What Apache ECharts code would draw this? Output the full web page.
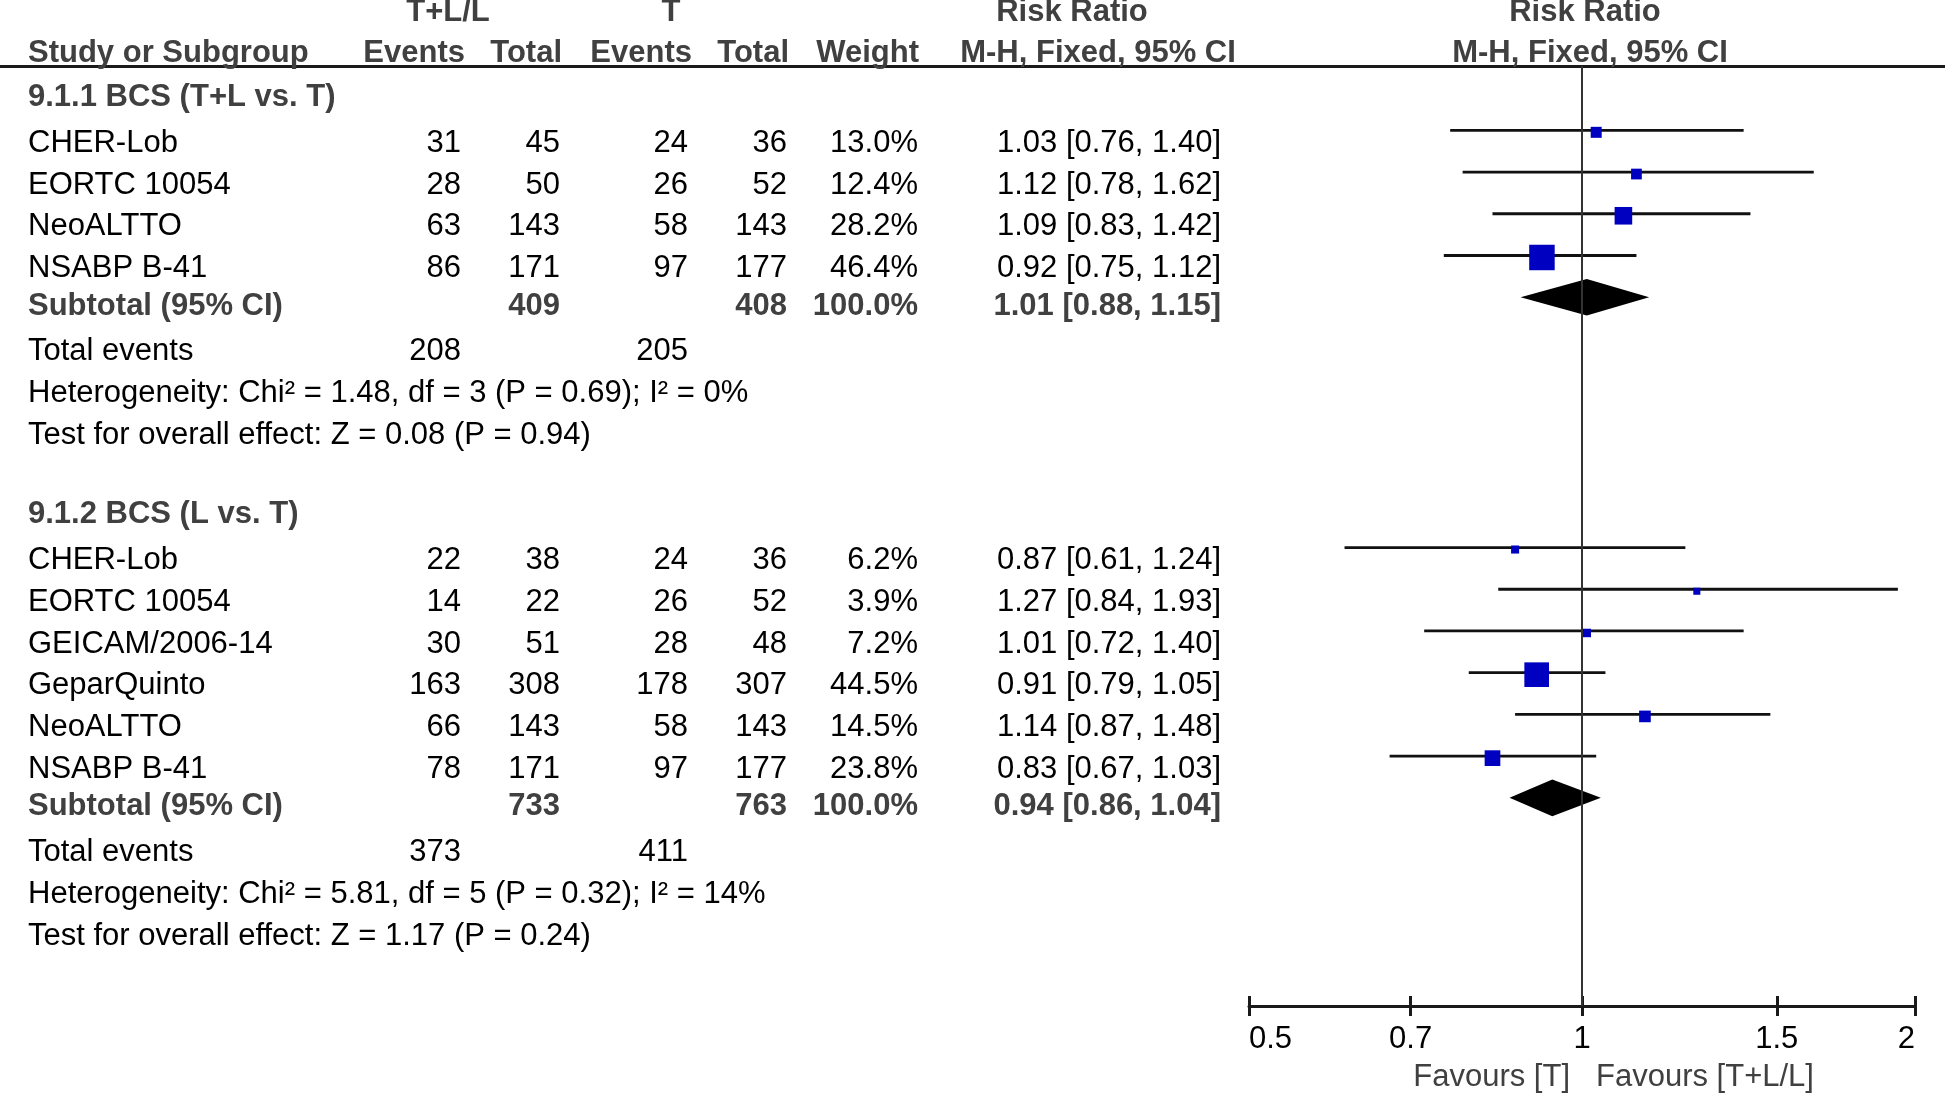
<!DOCTYPE html>
<html><head><meta charset="utf-8">
<script src="https://cdn.jsdelivr.net/npm/echarts@6/dist/echarts.min.js"></script>
<style>html,body{margin:0;padding:0;background:#fff}#c{width:1945px;height:1094px}</style>
</head><body><div id="c"></div>
<script>
// ---------------- data ----------------
const g1Title = '9.1.1 BCS (T+L vs. T)';
const g1Studies = ['CHER-Lob', 'EORTC 10054', 'NeoALTTO', 'NSABP B-41'];
const g1ExpEvents = [31, 28, 63, 86];
const g1ExpTotal = [45, 50, 143, 171];
const g1CtlEvents = [24, 26, 58, 97];
const g1CtlTotal = [36, 52, 143, 177];
const g1Weight = [13.0, 12.4, 28.2, 46.4];
const g1RR = [1.03, 1.12, 1.09, 0.92];
const g1Lower = [0.76, 0.78, 0.83, 0.75];
const g1Upper = [1.40, 1.62, 1.42, 1.12];
const g1SubTotals = [409, 408];
const g1SubWeight = '100.0%';
const g1Pooled = [1.01, 0.88, 1.15];
const g1TotalEvents = [208, 205];
const g1Heterogeneity = 'Heterogeneity: Chi² = 1.48, df = 3 (P = 0.69); I² = 0%';
const g1Overall = 'Test for overall effect: Z = 0.08 (P = 0.94)';

const g2Title = '9.1.2 BCS (L vs. T)';
const g2Studies = ['CHER-Lob', 'EORTC 10054', 'GEICAM/2006-14', 'GeparQuinto', 'NeoALTTO', 'NSABP B-41'];
const g2ExpEvents = [22, 14, 30, 163, 66, 78];
const g2ExpTotal = [38, 22, 51, 308, 143, 171];
const g2CtlEvents = [24, 26, 28, 178, 58, 97];
const g2CtlTotal = [36, 52, 48, 307, 143, 177];
const g2Weight = [6.2, 3.9, 7.2, 44.5, 14.5, 23.8];
const g2RR = [0.87, 1.27, 1.01, 0.91, 1.14, 0.83];
const g2Lower = [0.61, 0.84, 0.72, 0.79, 0.87, 0.67];
const g2Upper = [1.24, 1.93, 1.40, 1.05, 1.48, 1.03];
const g2SubTotals = [733, 763];
const g2SubWeight = '100.0%';
const g2Pooled = [0.94, 0.86, 1.04];
const g2TotalEvents = [373, 411];
const g2Heterogeneity = 'Heterogeneity: Chi² = 5.81, df = 5 (P = 0.32); I² = 14%';
const g2Overall = 'Test for overall effect: Z = 1.17 (P = 0.24)';

const xTicks = [0.5, 0.7, 1, 1.5, 2];
const xTickLabels = ['0.5', '0.7', '1', '1.5', '2'];
const favourLeft = 'Favours [T]';
const favourRight = 'Favours [T+L/L]';
const headerTop = ['T+L/L', 'T', 'Risk Ratio', 'Risk Ratio'];
const headerBottom = ['Study or Subgroup', 'Events', 'Total', 'Events', 'Total', 'Weight', 'M-H, Fixed, 95% CI', 'M-H, Fixed, 95% CI'];
const subtotalLabel = 'Subtotal (95% CI)';
const totalEventsLabel = 'Total events';

// ---------------- layout / style ----------------
const FONT_FAMILY = '"Liberation Sans", Arial, Helvetica, sans-serif';
const FS = 31;
const fontR = FS + 'px ' + FONT_FAMILY;
const fontB = 'bold ' + FS + 'px ' + FONT_FAMILY;
const GRAY = '#404040';
const NAME_X = 28;
const COL_RIGHT = [461, 560, 688, 787, 918, 1221];
const TEXT_DY = 13;
const BOLD_ROW_SHIFT = -4;

function fmtCI(a, b, c) { return a.toFixed(2) + ' [' + b.toFixed(2) + ', ' + c.toFixed(2) + ']'; }

const rows = [];
let rowCounter = 0;
function addGroup(title, studies, ee, et, ce, ct, w, rr, lo, hi, sub, subW, pooled, tev, het, ovr) {
  rows.push({ kind: 'title', row: rowCounter++, name: title });
  studies.forEach((s, i) => rows.push({
    kind: 'study', row: rowCounter++, name: s,
    cells: [ee[i], et[i], ce[i], ct[i], w[i].toFixed(1) + '%', fmtCI(rr[i], lo[i], hi[i])],
    rr: rr[i], lo: lo[i], hi: hi[i], w: w[i]
  }));
  rows.push({ kind: 'sub', row: rowCounter++, name: subtotalLabel,
    cells: ['', sub[0], '', sub[1], subW, fmtCI(pooled[0], pooled[1], pooled[2])],
    rr: pooled[0], lo: pooled[1], hi: pooled[2] });
  rows.push({ kind: 'events', row: rowCounter++, name: totalEventsLabel, cells: [tev[0], '', tev[1], '', '', ''] });
  rows.push({ kind: 'note', row: rowCounter++, name: het });
  rows.push({ kind: 'note', row: rowCounter++, name: ovr });
}
addGroup(g1Title, g1Studies, g1ExpEvents, g1ExpTotal, g1CtlEvents, g1CtlTotal, g1Weight, g1RR, g1Lower, g1Upper,
  g1SubTotals, g1SubWeight, g1Pooled, g1TotalEvents, g1Heterogeneity, g1Overall);
rowCounter++;
addGroup(g2Title, g2Studies, g2ExpEvents, g2ExpTotal, g2CtlEvents, g2CtlTotal, g2Weight, g2RR, g2Lower, g2Upper,
  g2SubTotals, g2SubWeight, g2Pooled, g2TotalEvents, g2Heterogeneity, g2Overall);

function txt(text, x, y, align, font, fill) {
  return { type: 'text', silent: true,
    style: { text: String(text), x: x, y: y, font: font, fill: fill,
      align: align, verticalAlign: 'middle', textAlign: align, textVerticalAlign: 'middle' } };
}

function renderItem(params, api) {
  const d = rows[params.dataIndex];
  const yM = api.coord([1, d.row])[1];
  const bold = d.kind === 'title' || d.kind === 'sub';
  const yT = yM + TEXT_DY + (bold ? BOLD_ROW_SHIFT : 0);
  const font = bold ? fontB : fontR;
  const fill = bold ? GRAY : '#000';
  const ch = [];
  ch.push(txt(d.name, NAME_X, yT, 'left', font, fill));
  if (d.cells) {
    d.cells.forEach((c, i) => { if (c !== '') ch.push(txt(c, COL_RIGHT[i], yT, 'right', font, fill)); });
  }
  if (d.kind === 'study') {
    const pL = api.coord([d.lo, d.row]);
    const pH = api.coord([d.hi, d.row]);
    const pC = api.coord([d.rr, d.row]);
    ch.push({ type: 'line', silent: true, shape: { x1: pL[0], y1: yM, x2: pH[0], y2: yM },
      style: { stroke: '#111', lineWidth: 2.8 } });
    const s = 5.36 + 0.434 * d.w;
    ch.push({ type: 'rect', silent: true, shape: { x: pC[0] - s / 2, y: yM + 2 - s / 2, width: s, height: s },
      style: { fill: '#0000c0' } });
  } else if (d.kind === 'sub') {
    const pL = api.coord([d.lo, d.row]);
    const pH = api.coord([d.hi, d.row]);
    const pC = api.coord([d.rr, d.row]);
    ch.push({ type: 'polygon', silent: true,
      shape: { points: [[pL[0], yM], [pC[0], yM - 18.3], [pH[0], yM], [pC[0], yM + 18.3]] },
      style: { fill: '#000' } });
  }
  return { type: 'group', children: ch };
}

const tickFmt = v => { const i = xTicks.findIndex(t => Math.abs(t - v) < 1e-6); return i >= 0 ? xTickLabels[i] : ''; };

const chart = echarts.init(document.getElementById('c'), null, { renderer: 'canvas' });
chart.setOption({
  backgroundColor: '#fff',
  animation: false,
  grid: { left: 1249, right: 30, top: 66, bottom: 88, containLabel: false },
  xAxis: [{
    type: 'log', logBase: 10, min: 0.5, max: 2, position: 'bottom',
    axisLine: { show: true, onZero: false, lineStyle: { color: '#1a1a1a', width: 3 } },
    axisTick: { show: true, inside: false, length: 10, customValues: xTicks, lineStyle: { color: '#1a1a1a', width: 3 } },
    axisLabel: { show: true, customValues: xTicks, formatter: tickFmt, margin: 18, fontSize: FS, fontFamily: FONT_FAMILY,
      color: '#000', alignMinLabel: 'left', alignMaxLabel: 'right' },
    splitLine: { show: false }, minorTick: { show: false }
  }, {
    type: 'log', logBase: 10, min: 0.5, max: 2, position: 'bottom',
    axisLine: { show: false, onZero: false },
    axisTick: { show: true, inside: true, length: 10, customValues: xTicks, lineStyle: { color: '#1a1a1a', width: 3 } },
    axisLabel: { show: false }, splitLine: { show: false }
  }],
  yAxis: { type: 'value', inverse: true, min: -0.5417, max: 21.989, show: false, splitLine: { show: false } },
  series: [{
    type: 'custom', xAxisIndex: 0, yAxisIndex: 0, clip: false,
    data: rows.map(d => [d.rr || 1, d.row]),
    encode: { x: 0, y: 1 },
    renderItem: renderItem,
    markLine: { silent: true, symbol: 'none', animation: false,
      label: { show: false }, lineStyle: { color: '#333', width: 2, type: 'solid' },
      data: [{ xAxis: 1 }] }
  }],
  graphic: [
    { type: 'line', silent: true, shape: { x1: 0, y1: 66.5, x2: 1945, y2: 66.5 }, style: { stroke: '#1a1a1a', lineWidth: 3 } },
    txt(headerTop[0], 448, 12, 'center', fontB, GRAY),
    txt(headerTop[1], 671, 12, 'center', fontB, GRAY),
    txt(headerTop[2], 1072, 12, 'center', fontB, GRAY),
    txt(headerTop[3], 1585, 12, 'center', fontB, GRAY),
    txt(headerBottom[0], NAME_X, 53, 'left', fontB, GRAY),
    txt(headerBottom[1], 465, 53, 'right', fontB, GRAY),
    txt(headerBottom[2], 562, 53, 'right', fontB, GRAY),
    txt(headerBottom[3], 692, 53, 'right', fontB, GRAY),
    txt(headerBottom[4], 789, 53, 'right', fontB, GRAY),
    txt(headerBottom[5], 919, 53, 'right', fontB, GRAY),
    txt(headerBottom[6], 1098, 53, 'center', fontB, GRAY),
    txt(headerBottom[7], 1590, 53, 'center', fontB, GRAY),
    txt(favourLeft, 1570, 1077, 'right', fontR, GRAY),
    txt(favourRight, 1596, 1077, 'left', fontR, GRAY)
  ]
});
</script></body></html>
